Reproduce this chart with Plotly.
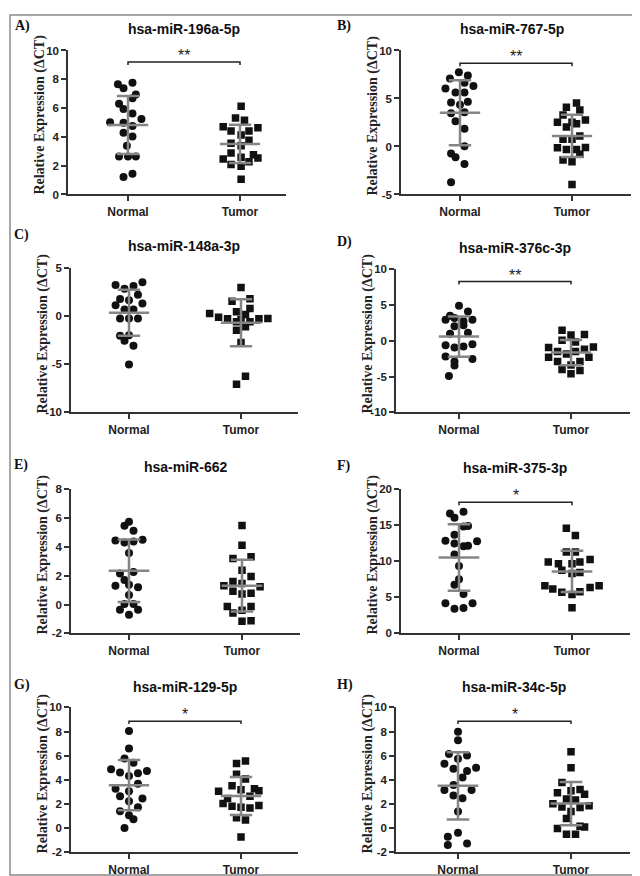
import plotly.graph_objects as go
import numpy as np

W, H = 640, 876

titles = ["hsa-miR-196a-5p", "hsa-miR-767-5p", "hsa-miR-148a-3p", "hsa-miR-376c-3p",
          "hsa-miR-662", "hsa-miR-375-3p", "hsa-miR-129-5p", "hsa-miR-34c-5p"]
letters = ["A)", "B)", "C)", "D)", "E)", "F)", "G)", "H)"]
stars = ["**", "**", "", "**", "", "*", "*", "*"]
groups = ["Normal", "Tumor"]
y_title = "Relative Expression (\u0394CT)"

# values, dx = horizontal spread of each dot (category units)
a_normal = [7.65, 7.37, 7.76, 6.94, 6.69, 6.30, 5.94, 5.62, 5.02, 4.98, 5.25, 4.75, 4.29, 4.02, 3.38, 2.63, 2.63, 2.63, 1.21, 1.44]
a_normal_dx = [-0.09, -0.04, 0.04, 0.07, 0.04, -0.08, -0.04, 0.04, -0.16, -0.04, 0.12, 0.04, -0.04, 0.04, -0.01, -0.08, 0.0, 0.07, -0.04, 0.04]
a_tumor = [6.12, 5.32, 5.16, 4.70, 4.63, 4.41, 4.41, 4.13, 3.77, 3.56, 3.38, 2.47, 2.88, 2.58, 2.76, 2.53, 2.08, 2.28, 1.96, 1.05]
a_tumor_dx = [0.01, -0.04, 0.04, -0.15, 0.16, -0.08, 0.08, 0.01, 0.08, -0.08, 0.01, -0.15, -0.08, 0.01, 0.12, 0.16, -0.08, 0.08, 0.01, 0.01]

b_normal = [7.74, 7.09, 7.40, 6.03, 6.30, 6.64, 5.62, 5.62, 4.59, 4.35, 4.66, 3.46, 3.56, 2.64, 1.85, 0.03, -0.72, -1.13, -1.82, -3.73]
b_normal_dx = [-0.01, -0.09, 0.07, -0.13, 0.12, 0.04, -0.04, 0.04, -0.08, 0.0, 0.07, -0.08, 0.04, -0.04, 0.04, 0.04, -0.08, -0.04, 0.04, -0.08]
b_tumor = [4.52, 4.08, 3.80, 3.29, 2.53, 2.36, 2.77, 2.02, 0.75, 0.75, 1.10, -0.14, -0.31, -0.31, -0.10, -0.82, -1.40, -1.58, -3.97, 2.53]
b_tumor_dx = [0.04, -0.05, 0.07, -0.08, -0.13, 0.04, 0.12, -0.05, -0.08, 0.0, 0.07, -0.13, -0.05, 0.04, 0.12, 0.07, -0.08, 0.0, 0.0, 0.0]

c_normal = [3.29, 2.88, 3.18, 3.56, 2.26, 1.82, 1.68, 1.16, 1.34, 0.72, 0.72, -0.21, -0.21, -0.21, -2.02, -1.95, -2.53, -3.05, -5.00]
c_normal_dx = [-0.12, -0.04, 0.04, 0.12, 0.08, -0.08, 0.0, -0.12, 0.12, -0.04, 0.04, -0.08, 0.0, 0.08, -0.08, 0.0, -0.04, 0.04, 0.0]
c_tumor = [3.01, 1.58, 1.85, 0.82, 0.48, 0.21, 0.31, -0.07, -0.24, -0.31, -0.55, -0.55, -0.24, -0.21, -1.06, -1.44, -2.71, -6.23, -7.05]
c_tumor_dx = [0.0, -0.08, 0.08, 0.08, -0.04, 0.04, -0.28, -0.20, -0.12, 0.0, 0.08, -0.04, 0.16, 0.24, 0.04, -0.04, 0.0, 0.04, -0.04]

d_normal = [4.91, 3.53, 4.13, 2.98, 3.21, 2.98, 2.75, 2.06, 2.20, 1.15, 1.01, -0.60, -0.92, -0.78, -0.46, -2.16, -2.89, -2.52, -3.44, -4.91]
d_normal_dx = [0.0, -0.08, 0.08, -0.12, -0.04, 0.12, 0.04, -0.04, 0.04, 0.08, -0.08, -0.12, -0.04, 0.04, 0.12, -0.12, -0.04, 0.12, -0.04, -0.09]
d_tumor = [1.51, 0.83, 0.92, 0.09, -0.14, -0.92, -0.83, -1.47, -1.47, -1.15, -1.83, -2.29, -2.29, -2.89, -2.89, -3.35, -3.99, -4.13, -4.59]
d_tumor_dx = [-0.08, 0.0, 0.12, -0.08, 0.04, -0.20, 0.20, -0.12, 0.04, 0.12, -0.04, -0.20, 0.16, -0.12, 0.08, 0.0, -0.08, 0.08, 0.0]

e_normal = [5.76, 5.47, 5.12, 4.46, 4.32, 4.39, 4.51, 3.59, 2.16, 2.27, 1.70, 1.31, 1.38, 1.20, 0.67, 0.05, 0.05, -0.36, -0.36, -0.70]
e_normal_dx = [0.0, -0.04, 0.04, -0.12, -0.04, 0.04, 0.12, 0.0, -0.08, 0.04, -0.04, -0.12, 0.0, 0.08, 0.0, -0.04, 0.04, -0.08, 0.08, 0.0]
e_tumor = [5.49, 4.12, 3.21, 3.32, 2.38, 1.95, 1.61, 1.47, 1.31, 1.24, 0.92, 0.79, 0.74, -0.13, -0.13, -0.58, -0.40, -1.16, -1.13]
e_tumor_dx = [0.0, 0.0, -0.08, 0.08, 0.0, 0.08, -0.08, 0.0, -0.16, 0.16, -0.08, 0.08, 0.0, -0.13, 0.08, -0.08, 0.0, 0.0, 0.08]

f_normal = [16.67, 16.07, 16.89, 14.84, 14.93, 12.88, 13.70, 12.47, 12.10, 12.19, 12.79, 10.96, 9.36, 7.53, 6.76, 5.48, 4.20, 4.20, 3.42, 3.52]
f_normal_dx = [-0.08, -0.04, 0.04, 0.04, 0.08, -0.12, -0.04, -0.04, 0.04, 0.08, 0.16, -0.04, 0.0, 0.0, -0.04, 0.04, -0.12, 0.12, -0.04, 0.04]
f_tumor = [14.61, 13.61, 11.32, 11.32, 9.91, 9.68, 9.91, 10.27, 8.77, 9.68, 8.31, 8.45, 6.62, 6.16, 5.71, 5.39, 5.80, 6.39, 6.62, 3.56]
f_tumor_dx = [-0.05, 0.03, -0.05, 0.03, -0.21, -0.12, 0.07, 0.16, -0.09, 0.0, 0.0, 0.07, -0.24, -0.17, -0.09, 0.0, 0.07, 0.16, 0.24, 0.0]

g_normal = [8.04, 6.59, 5.77, 5.42, 4.87, 4.60, 4.33, 4.55, 4.74, 3.67, 3.26, 3.05, 2.64, 2.23, 2.45, 1.74, 1.41, 1.08, 0.73, 0.02]
g_normal_dx = [0.0, 0.0, -0.04, 0.04, -0.16, -0.08, 0.0, 0.08, 0.16, 0.08, -0.12, 0.0, -0.08, 0.0, 0.12, 0.08, -0.08, 0.0, 0.04, -0.04]
g_tumor = [5.56, 5.36, 4.46, 4.08, 3.05, 3.51, 3.18, 3.26, 3.10, 2.64, 2.45, 2.04, 1.82, 1.74, 1.68, 1.87, 0.86, 0.67, -0.72]
g_tumor_dx = [0.04, -0.04, -0.04, 0.04, -0.20, -0.08, 0.0, 0.12, 0.16, 0.08, -0.12, -0.16, -0.08, 0.0, 0.08, 0.16, -0.04, 0.04, 0.0]

h_normal = [7.99, 7.28, 6.14, 6.01, 5.74, 5.33, 4.92, 4.73, 5.00, 4.19, 3.57, 3.16, 3.16, 2.70, 2.48, 1.39, -0.37, -0.70, -1.40, -1.27]
h_normal_dx = [0.0, 0.0, -0.08, 0.08, 0.0, -0.12, -0.04, 0.08, 0.16, 0.04, -0.04, -0.12, 0.12, -0.04, 0.04, 0.0, 0.0, -0.09, -0.09, 0.08]
h_tumor = [6.33, 5.00, 3.78, 3.21, 3.10, 2.94, 2.80, 2.42, 2.34, 2.02, 1.75, 1.72, 1.85, 1.39, 0.80, 0.17, 0.09, -0.02, -0.51, -0.51]
h_tumor_dx = [0.0, 0.0, -0.08, 0.08, 0.0, -0.12, 0.12, -0.04, 0.04, -0.16, -0.08, 0.08, 0.16, 0.0, -0.04, 0.08, 0.12, -0.12, -0.04, 0.04]

data = [
    (a_normal, a_normal_dx, a_tumor, a_tumor_dx),
    (b_normal, b_normal_dx, b_tumor, b_tumor_dx),
    (c_normal, c_normal_dx, c_tumor, c_tumor_dx),
    (d_normal, d_normal_dx, d_tumor, d_tumor_dx),
    (e_normal, e_normal_dx, e_tumor, e_tumor_dx),
    (f_normal, f_normal_dx, f_tumor, f_tumor_dx),
    (g_normal, g_normal_dx, g_tumor, g_tumor_dx),
    (h_normal, h_normal_dx, h_tumor, h_tumor_dx),
]

# panel geometry in pixels: y axis x, x axis end, Normal/Tumor tick x, top/bottom of axis
geo = [
    dict(x0=60, x1=278, xn=120, xt=232, top=37, bot=183, yr=[0, 10], dt=2, br=9.2, tx=176, ty=15, lx=5, ly=12, ay=102),
    dict(x0=393, x1=623, xn=452, xt=564, top=37, bot=183, yr=[-5, 10], dt=5, br=8.66, tx=504, ty=15, lx=327, ly=12, ay=103),
    dict(x0=63, x1=290, xn=121, xt=233, top=258, bot=404, yr=[-10, 5], dt=5, br=None, tx=176, ty=235, lx=4, ly=224, ay=324),
    dict(x0=388, x1=622, xn=451, xt=563, top=259, bot=404, yr=[-10, 10], dt=5, br=8.3, tx=507, ty=237, lx=327, ly=231, ay=324),
    dict(x0=63, x1=292, xn=121, xt=234, top=482, bot=628, yr=[-2, 8], dt=2, br=None, tx=177, ty=459, lx=4, ly=457, ay=548),
    dict(x0=393, x1=622, xn=451, xt=564, top=482, bot=628, yr=[0, 20], dt=5, br=18.2, tx=507, ty=460, lx=327, ly=458, ay=548),
    dict(x0=63, x1=290, xn=121, xt=233, top=703, bot=850, yr=[-2, 10], dt=2, br=8.86, tx=177, ty=682, lx=4, ly=680, ay=770),
    dict(x0=388, x1=622, xn=450, xt=563, top=703, bot=850, yr=[-2, 10], dt=2, br=8.86, tx=506, ty=682, lx=327, ly=680, ay=770),
]

AXIS = "#333333"
GREY = "#858585"
SANS = "Liberation Sans"
SERIF = "Liberation Serif"

fig = go.Figure()
annotations = []
shapes = []

for i, (g, (nv, ndx, tv, tdx)) in enumerate(zip(geo, data)):
    k = "" if i == 0 else str(i + 1)
    xa, ya = "x" + k, "y" + k
    step = g["xt"] - g["xn"]
    xr = [-(g["xn"] - g["x0"]) / step, (g["x1"] - g["xn"]) / step]

    for c, (vals, dx, sym, sz) in enumerate([(nv, ndx, "circle", 8), (tv, tdx, "square", 7.5)]):
        fig.add_trace(go.Scatter(
            x=[c + d for d in dx], y=vals, mode="markers", xaxis=xa, yaxis=ya,
            marker=dict(symbol=sym, size=sz, color="#111111", line=dict(width=0)),
            showlegend=False, hoverinfo="y"))

    # mean and SD lines on top of the dots
    lx, ly = [], []
    for c, vals in enumerate([nv, tv]):
        m = np.mean(vals)
        s = np.std(vals, ddof=1)
        lx += [c - 0.18, c + 0.18, None, c, c, None, c - 0.1, c + 0.1, None, c - 0.1, c + 0.1, None]
        ly += [m, m, None, m - s, m + s, None, m + s, m + s, None, m - s, m - s, None]
    fig.add_trace(go.Scatter(x=lx, y=ly, mode="lines", xaxis=xa, yaxis=ya,
                             line=dict(color=GREY, width=2.5), showlegend=False, hoverinfo="skip"))

    # plain hyphen minus signs like the original
    tv_y = list(range(g["yr"][0], g["yr"][1] + 1, g["dt"]))
    tt_y = [str(v) for v in tv_y]

    fig.layout["xaxis" + k] = dict(
        domain=[g["x0"] / W, g["x1"] / W], range=xr, anchor=ya,
        tickvals=[0, 1], ticktext=groups, showgrid=False, zeroline=False,
        showline=True, linecolor=AXIS, linewidth=1.5, ticks="outside", ticklen=5,
        tickwidth=1.5, tickcolor=AXIS,
        tickfont=dict(family=SANS, size=12, color="#222222", weight="bold"))
    fig.layout["yaxis" + k] = dict(
        domain=[1 - g["bot"] / H, 1 - g["top"] / H], range=g["yr"], anchor=xa,
        tickvals=tv_y, ticktext=tt_y, showgrid=False, zeroline=False,
        showline=True, linecolor=AXIS, linewidth=1.5, ticks="outside", ticklen=5,
        tickwidth=1.5, tickcolor=AXIS,
        tickfont=dict(family=SANS, size=11.5, color="#222222", weight="bold"))

    annotations.append(dict(text=titles[i], x=g["tx"] / W, y=1 - g["ty"] / H, xref="paper", yref="paper",
                            showarrow=False, xanchor="center", yanchor="middle",
                            font=dict(family=SANS, size=14, color="#111111", weight="bold")))
    annotations.append(dict(text=letters[i], x=g["lx"] / W, y=1 - g["ly"] / H, xref="paper", yref="paper",
                            showarrow=False, xanchor="left", yanchor="middle",
                            font=dict(family=SERIF, size=14, color="#111111", weight="bold")))
    annotations.append(dict(text=y_title, x=(g["x0"] - 28) / W, y=1 - g["ay"] / H, xref="paper", yref="paper",
                            showarrow=False, textangle=-90, xanchor="center", yanchor="middle",
                            font=dict(family=SERIF, size=14, color="#222222", weight="bold")))

    if g["br"] is not None:
        d = 3 * (g["yr"][1] - g["yr"][0]) / (g["bot"] - g["top"])
        y = g["br"]
        shapes.append(dict(type="path", xref=xa, yref=ya,
                           path=f"M 0,{y - d} L 0,{y} L 1,{y} L 1,{y - d}",
                           line=dict(color="#222222", width=1.5)))
        annotations.append(dict(text=stars[i], x=0.5, y=y, xref=xa, yref=ya, showarrow=False,
                                xanchor="center", yanchor="bottom", yshift=-4,
                                font=dict(family=SANS, size=16, color="#222222")))

# outer frame of the figure
shapes.append(dict(type="rect", xref="paper", yref="paper", x0=2 / W, x1=638 / W, y0=1 - 873 / H, y1=1 - 1 / H,
                   line=dict(color="#8a8a8a", width=1.5)))

fig.update_layout(
    width=W, height=H, margin=dict(l=0, r=0, t=0, b=0),
    paper_bgcolor="white", plot_bgcolor="white",
    annotations=annotations, shapes=shapes, showlegend=False)

fig.write_html("out.html")
